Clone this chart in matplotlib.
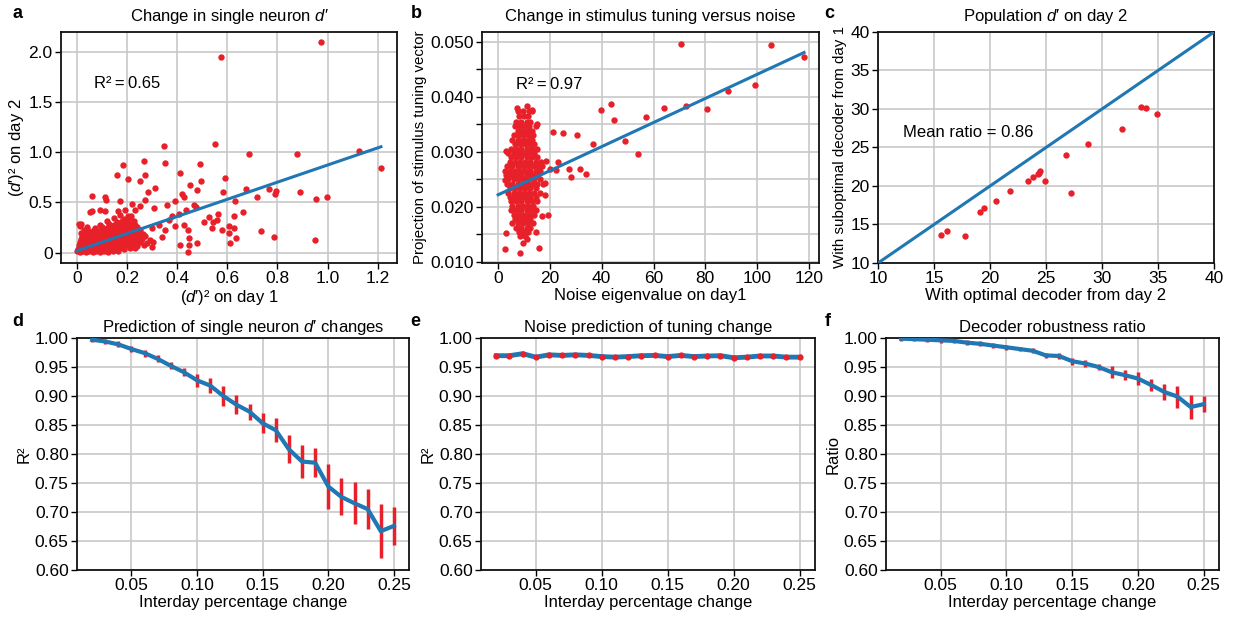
import numpy as np
import matplotlib
matplotlib.use("Agg")
import matplotlib.pyplot as plt

plt.rcParams['font.family'] = ['Liberation Sans', 'DejaVu Sans']
plt.rcParams['mathtext.fontset'] = 'custom'
plt.rcParams['mathtext.rm'] = 'Liberation Sans'
plt.rcParams['mathtext.it'] = 'Liberation Sans:italic'
FS = 12.5   # tick labels
LS = 12     # titles, axis labels, notes
plt.rcParams['font.size'] = FS

RED = '#e8202a'
BLUE = '#1f77b4'

# ---- panel a: single neuron (d')^2, day 1 vs day 2
a_outliers = [(0.575, 1.946), (0.974, 2.098), (0.347, 1.067), (0.551, 1.083),
              (0.491, 0.883), (0.686, 0.983), (0.877, 0.980), (1.124, 1.010),
              (1.213, 0.843), (0.495, 0.710), (0.591, 0.743), (0.478, 0.620),
              (0.583, 0.607), (0.673, 0.637), (0.766, 0.637), (0.795, 0.610),
              (0.789, 0.583), (0.717, 0.550), (0.630, 0.517), (0.890, 0.607),
              (0.954, 0.530), (0.996, 0.557), (0.475, 0.453), (0.509, 0.303),
              (0.527, 0.353), (0.544, 0.300), (0.540, 0.247), (0.559, 0.320),
              (0.562, 0.387), (0.579, 0.230), (0.605, 0.267), (0.608, 0.197),
              (0.626, 0.243), (0.626, 0.367), (0.661, 0.407), (0.634, 0.150),
              (0.609, 0.100), (0.734, 0.220), (0.788, 0.153), (0.950, 0.123),
              (0.478, 0.093), (0.353, 0.893), (0.184, 0.870), (0.267, 0.910),
              (0.160, 0.770), (0.203, 0.733), (0.273, 0.770), (0.253, 0.717),
              (0.413, 0.793), (0.453, 0.677), (0.313, 0.643), (0.284, 0.600),
              (0.420, 0.583), (0.427, 0.550), (0.393, 0.517), (0.060, 0.560),
              (0.113, 0.550), (0.117, 0.527), (0.053, 0.400), (0.060, 0.417),
              (0.091, 0.427), (0.111, 0.410), (0.171, 0.510), (0.220, 0.487),
              (0.253, 0.467), (0.273, 0.527), (0.307, 0.443), (0.360, 0.470),
              (0.164, 0.417), (0.193, 0.427), (0.233, 0.427), (0.217, 0.367),
              (0.007, 0.283), (0.013, 0.260), (0.407, 0.387), (0.437, 0.427),
              (0.467, 0.477), (0.380, 0.360), (0.393, 0.260), (0.427, 0.277),
              (0.444, 0.227), (0.447, 0.143), (0.449, 0.077), (0.444, 0.010),
              (0.411, 0.077), (0.340, 0.160), (0.353, 0.227), (0.367, 0.327),
              (0.300, 0.243), (0.327, 0.277)]
a_cluster = [(0.000, 0.012), (0.012, 0.008), (0.025, 0.015), (0.038, 0.006), (0.050, 0.012),
             (0.063, 0.010), (0.078, 0.014), (0.092, 0.008), (0.108, 0.016), (0.125, 0.010),
             (0.145, 0.018), (0.165, 0.012),
             (0.004, 0.040), (0.018, 0.036), (0.032, 0.044), (0.046, 0.038), (0.060, 0.045),
             (0.074, 0.035), (0.088, 0.042), (0.103, 0.047), (0.118, 0.038), (0.132, 0.044),
             (0.148, 0.036), (0.170, 0.045), (0.188, 0.040), (0.210, 0.048), (0.232, 0.042),
             (0.008, 0.072), (0.022, 0.068), (0.036, 0.075), (0.051, 0.066), (0.066, 0.074),
             (0.081, 0.070), (0.096, 0.077), (0.111, 0.068), (0.126, 0.073), (0.141, 0.079),
             (0.157, 0.068), (0.176, 0.075), (0.196, 0.071), (0.218, 0.078), (0.240, 0.070),
             (0.268, 0.076), (0.300, 0.060),
             (0.012, 0.102), (0.027, 0.098), (0.042, 0.105), (0.058, 0.097), (0.073, 0.104),
             (0.088, 0.100), (0.103, 0.108), (0.118, 0.098), (0.133, 0.104), (0.148, 0.110),
             (0.163, 0.099), (0.178, 0.106), (0.194, 0.101), (0.210, 0.109), (0.228, 0.098),
             (0.250, 0.105), (0.278, 0.100), (0.305, 0.110),
             (0.018, 0.132), (0.033, 0.128), (0.048, 0.136), (0.063, 0.127), (0.078, 0.134),
             (0.093, 0.130), (0.108, 0.138), (0.123, 0.128), (0.138, 0.135), (0.153, 0.140),
             (0.168, 0.129), (0.184, 0.136), (0.200, 0.131), (0.216, 0.139), (0.236, 0.128),
             (0.258, 0.136), (0.290, 0.130),
             (0.022, 0.162), (0.040, 0.158), (0.056, 0.166), (0.072, 0.157), (0.088, 0.164),
             (0.104, 0.160), (0.119, 0.168), (0.134, 0.158), (0.150, 0.165), (0.165, 0.170),
             (0.180, 0.159), (0.196, 0.166), (0.212, 0.161), (0.228, 0.169), (0.248, 0.158),
             (0.272, 0.166),
             (0.018, 0.192), (0.038, 0.188), (0.058, 0.196), (0.078, 0.187), (0.098, 0.194),
             (0.114, 0.190), (0.130, 0.198), (0.146, 0.188), (0.161, 0.195), (0.177, 0.200),
             (0.192, 0.189), (0.208, 0.196), (0.224, 0.191), (0.242, 0.199), (0.262, 0.188),
             (0.030, 0.222), (0.050, 0.218), (0.070, 0.226), (0.090, 0.217), (0.110, 0.224),
             (0.126, 0.220), (0.142, 0.228), (0.157, 0.218), (0.172, 0.225), (0.188, 0.230),
             (0.203, 0.219), (0.219, 0.226), (0.235, 0.221), (0.252, 0.229),
             (0.042, 0.252), (0.072, 0.248), (0.100, 0.256), (0.120, 0.247), (0.140, 0.254),
             (0.160, 0.250), (0.180, 0.258), (0.200, 0.248), (0.220, 0.255), (0.240, 0.250),
             (0.015, 0.282), (0.092, 0.278), (0.130, 0.286), (0.150, 0.277), (0.170, 0.284),
             (0.190, 0.280), (0.210, 0.288), (0.232, 0.278),
             (0.122, 0.312), (0.160, 0.308), (0.182, 0.316), (0.202, 0.307), (0.226, 0.314),
             (0.150, 0.342), (0.190, 0.338), (0.212, 0.346),
             (0.172, 0.372), (0.206, 0.368)]
a_fit_slope, a_fit_intercept = 0.855, 0.018
a_r2 = 0.65

# ---- panel b: tuning projection vs noise eigenvalue
b_outliers = [(70.7, 0.0496), (105.5, 0.0494), (118.1, 0.0473), (99.3, 0.0421),
              (88.7, 0.0411), (80.5, 0.0378), (72.5, 0.0384), (63.9, 0.0379),
              (57.1, 0.0363), (54.1, 0.0297), (48.9, 0.0320), (44.9, 0.0358),
              (43.5, 0.0387), (39.6, 0.0376), (36.8, 0.0315), (30.4, 0.0330),
              (25.2, 0.0335), (21.2, 0.0337), (23.3, 0.0281), (22.5, 0.0267),
              (27.4, 0.0269), (28.0, 0.0255), (31.6, 0.0269), (33.8, 0.0260),
              (19.9, 0.0269), (18.6, 0.0284), (19.3, 0.0186), (17.0, 0.0183),
              (18.0, 0.0243), (18.0, 0.0222), (15.7, 0.0126), (2.6, 0.0123),
              (8.4, 0.0116), (9.6, 0.0134), (11.1, 0.0141), (14.5, 0.0155),
              (3.2, 0.0301), (2.8, 0.0266), (2.6, 0.0248), (3.2, 0.0152),
              (7.3, 0.0379), (11.2, 0.0384), (12.9, 0.0377), (15.0, 0.0350)]
b_rows = {
    0.0375: [7.5, 9.5, 12.0, 13.0],
    0.0365: [8.0, 10.0, 11.5],
    0.0355: [7.0, 9.0, 11.0, 12.5],
    0.0347: [6.5, 8.5, 10.5, 12.0, 14.5],
    0.0338: [7.5, 9.5, 11.5, 13.0],
    0.0330: [6.0, 8.0, 10.0, 12.0, 13.5],
    0.0322: [5.5, 7.5, 9.5, 11.5, 13.0],
    0.0314: [6.5, 8.5, 10.5, 12.5, 14.0],
    0.0306: [5.0, 7.0, 9.0, 11.0, 13.0, 15.0],
    0.0298: [4.0, 6.0, 8.0, 10.0, 12.0, 14.0],
    0.0290: [5.0, 7.0, 9.0, 11.0, 13.0, 15.0],
    0.0282: [4.5, 6.5, 8.5, 10.5, 12.5, 14.5, 16.5],
    0.0274: [3.5, 5.5, 7.5, 9.5, 11.5, 13.5, 15.5, 17.0],
    0.0266: [4.5, 6.5, 8.5, 10.5, 12.5, 14.5, 16.0],
    0.0258: [3.0, 5.0, 7.0, 9.0, 11.0, 13.0, 15.0],
    0.0250: [4.0, 6.0, 8.0, 10.0, 12.0, 14.0, 16.0],
    0.0242: [3.5, 5.5, 7.5, 9.5, 11.5, 13.5, 15.0, 17.5],
    0.0234: [4.5, 6.5, 8.5, 10.5, 12.5, 14.5],
    0.0226: [4.0, 6.0, 8.0, 10.0, 12.0, 14.0, 16.0],
    0.0218: [4.5, 6.5, 8.5, 10.5, 12.5, 14.5],
    0.0210: [5.0, 7.0, 9.0, 11.0, 13.0, 15.0],
    0.0202: [5.5, 7.5, 9.5, 11.5, 13.5],
    0.0194: [5.0, 7.0, 9.0, 11.0, 13.0, 14.5],
    0.0186: [6.0, 8.0, 10.0, 12.0, 14.0],
    0.0178: [6.5, 8.5, 10.5, 12.5],
    0.0170: [5.5, 7.5, 9.5, 11.5, 13.5],
    0.0162: [7.0, 9.0, 11.0, 12.5],
    0.0154: [8.0, 10.0, 11.5],
    0.0147: [8.5, 10.5],
}
b_fit_slope, b_fit_intercept = 0.000219, 0.0222
b_r2 = 0.97

# ---- panel c: population d' on day 2
c_optimal = [15.6, 16.2, 17.8, 19.1, 19.5, 20.5, 21.8, 23.4, 23.8, 24.3,
             24.5, 24.4, 24.9, 26.8, 27.2, 28.75, 31.8, 33.5, 33.9, 34.9]
c_subopt = [13.6, 14.2, 13.5, 16.6, 17.2, 18.0, 19.3, 20.6, 21.2, 21.6,
            21.9, 21.7, 20.7, 24.0, 19.1, 25.4, 27.4, 30.2, 30.1, 29.3]
c_mean_ratio = 0.86

# ---- panels d-f: interday percentage change
change = [0.02, 0.03, 0.04, 0.05, 0.06, 0.07, 0.08, 0.09, 0.10, 0.11, 0.12, 0.13,
          0.14, 0.15, 0.16, 0.17, 0.18, 0.19, 0.20, 0.21, 0.22, 0.23, 0.24, 0.25]
d_r2 = [0.997, 0.994, 0.989, 0.981, 0.974, 0.964, 0.952, 0.941, 0.927, 0.918, 0.900, 0.885,
        0.873, 0.853, 0.841, 0.808, 0.787, 0.785, 0.744, 0.726, 0.715, 0.705, 0.667, 0.676]
d_err = [0.004, 0.005, 0.005, 0.005, 0.006, 0.006, 0.006, 0.007, 0.011, 0.0135, 0.018, 0.016,
         0.014, 0.017, 0.021, 0.024, 0.028, 0.025, 0.038, 0.032, 0.036, 0.035, 0.046, 0.033]
e_r2 = [0.9695, 0.9695, 0.973, 0.967, 0.971, 0.970, 0.971, 0.970, 0.968, 0.967, 0.968, 0.9695,
        0.970, 0.968, 0.970, 0.968, 0.969, 0.9695, 0.966, 0.967, 0.969, 0.969, 0.967, 0.967]
f_ratio = [0.999, 0.998, 0.997, 0.996, 0.995, 0.992, 0.990, 0.987, 0.984, 0.981, 0.978, 0.970,
           0.969, 0.960, 0.956, 0.950, 0.941, 0.936, 0.930, 0.919, 0.907, 0.899, 0.881, 0.886]
f_err = [0.004, 0.004, 0.004, 0.004, 0.004, 0.004, 0.004, 0.004, 0.004, 0.004, 0.004, 0.005,
         0.005, 0.006, 0.006, 0.006, 0.010, 0.009, 0.011, 0.010, 0.014, 0.019, 0.021, 0.014]

DP = r"$d$′"
TS = "\u2009"  # thin space around "=" in the R² notes


def style(ax):
    ax.grid(True, color='#c8c8c8', lw=1.2)
    ax.set_axisbelow(True)
    for s in ax.spines.values():
        s.set_linewidth(1.3)
        s.set_color('#111111')
    ax.tick_params(direction='out', length=4, width=1, labelsize=FS, pad=2)


fig = plt.figure(figsize=(12.36, 6.21), dpi=100)
axa = fig.add_axes([0.0494, 0.5765, 0.2718, 0.372])
axb = fig.add_axes([0.390, 0.5765, 0.2727, 0.372])
axc = fig.add_axes([0.7104, 0.5765, 0.2718, 0.372])
axd = fig.add_axes([0.0623, 0.0821, 0.2686, 0.3736])
axe = fig.add_axes([0.3892, 0.0821, 0.270, 0.3736])
axf = fig.add_axes([0.7168, 0.0821, 0.2694, 0.3736])

# a
pts = a_cluster + a_outliers
ax_x = [p[0] for p in pts]
ax_y = [p[1] for p in pts]
axa.scatter(ax_x, ax_y, s=21, color=RED, lw=0, zorder=2)
fx = np.array([0, max(ax_x)])
axa.plot(fx, a_fit_intercept + a_fit_slope * fx, color=BLUE, lw=2.2, zorder=3)
axa.set_xlim(-0.063, 1.277)
axa.set_ylim(-0.104, 2.2)
axa.set_xticks([0, 0.2, 0.4, 0.6, 0.8, 1.0, 1.2])
axa.set_xticklabels(['0', '0.2', '0.4', '0.6', '0.8', '1.0', '1.2'])
axa.set_yticks([0, 0.5, 1.0, 1.5, 2.0])
axa.set_yticklabels(['0', '0.5', '1.0', '1.5', '2.0'])
axa.text(0.07, 1.685, 'R²' + TS + '=' + TS + '%.2f' % a_r2, fontsize=LS, va='center')
axa.set_title("Change in single neuron " + DP, fontsize=LS, pad=8)
axa.set_xlabel("(" + DP + ")² on day 1", fontsize=LS, labelpad=1)
axa.set_ylabel("(" + DP + ")² on day 2", fontsize=LS, labelpad=2)
style(axa)

# b
bx = [p[0] for p in b_outliers]
by = [p[1] for p in b_outliers]
for yv, xs in b_rows.items():
    bx += xs
    by += [yv] * len(xs)
axb.scatter(bx, by, s=21, color=RED, lw=0, zorder=2)
fx = np.array([0, max(bx)])
axb.plot(fx, b_fit_intercept + b_fit_slope * fx, color=BLUE, lw=2.2, zorder=3)
axb.set_xlim(-6.2, 123.9)
axb.set_ylim(0.0098, 0.0518)
axb.set_xticks([0, 20, 40, 60, 80, 100, 120])
yt = np.arange(0.010, 0.0501, 0.005)
axb.set_yticks(yt)
axb.set_yticklabels(['%.3f' % v if i % 2 == 0 else '' for i, v in enumerate(yt)])
axb.text(6.8, 0.0422, 'R²' + TS + '=' + TS + '%.2f' % b_r2, fontsize=LS, va='center')
axb.set_title('Change in stimulus tuning versus noise', fontsize=LS, pad=8)
axb.set_xlabel('Noise eigenvalue on day1', fontsize=LS, labelpad=1)
axb.set_ylabel('Projection of stimulus tuning vector', fontsize=10.8, labelpad=2)
style(axb)

# c
axc.scatter(c_optimal, c_subopt, s=21, color=RED, lw=0, zorder=2)
axc.plot([10, 40], [10, 40], color=BLUE, lw=2.2, zorder=3)
axc.set_xlim(10, 40)
axc.set_ylim(10, 40)
axc.set_xticks(range(10, 41, 5))
axc.set_yticks(range(10, 41, 5))
axc.text(12.2, 27.0, 'Mean ratio = %.2f' % c_mean_ratio, fontsize=LS, va='center')
axc.set_title("Population " + DP + " on day 2", fontsize=LS, pad=8)
axc.set_xlabel('With optimal decoder from day 2', fontsize=LS, labelpad=1)
axc.set_ylabel('With suboptimal decoder from day 1', fontsize=10.9, labelpad=2)
style(axc)

# d, e, f
for ax in (axd, axe, axf):
    ax.set_ylim(0.6, 1.0)
    ax.set_yticks(np.arange(0.60, 1.001, 0.05))
    ax.set_xticks([0.05, 0.10, 0.15, 0.20, 0.25])
    ax.yaxis.set_major_formatter(plt.FormatStrFormatter('%.2f'))
    ax.xaxis.set_major_formatter(plt.FormatStrFormatter('%.2f'))
    ax.set_xlabel('Interday percentage change', fontsize=LS, labelpad=1)
    style(ax)

axd.errorbar(change, d_r2, yerr=d_err, fmt='none', ecolor=RED, elinewidth=2.5, capsize=0, zorder=2)
axd.plot(change, d_r2, color=BLUE, lw=3, zorder=3)
axd.set_title("Prediction of single neuron " + DP + " changes", fontsize=LS, pad=4)
axd.set_ylabel('R²', fontsize=LS, labelpad=2)

axe.plot(change, e_r2, color=BLUE, lw=3.5, zorder=2)
axe.plot(change, e_r2, 'o', color=RED, ms=4.5, mew=0, zorder=3)
axe.set_title('Noise prediction of tuning change', fontsize=LS, pad=4)
axe.set_ylabel('R²', fontsize=LS, labelpad=2)

axf.errorbar(change, f_ratio, yerr=f_err, fmt='none', ecolor=RED, elinewidth=2.5, capsize=0, zorder=2)
axf.plot(change, f_ratio, color=BLUE, lw=3, zorder=3)
axf.set_title('Decoder robustness ratio', fontsize=LS, pad=4)
axf.set_ylabel('Ratio', fontsize=LS, labelpad=2)

# panel letters
for lbl, x, y in [('a', 0.010, 0.978), ('b', 0.332, 0.978), ('c', 0.667, 0.978),
                  ('d', 0.010, 0.482), ('e', 0.332, 0.482), ('f', 0.667, 0.482)]:
    fig.text(x, y, lbl, fontsize=13, fontweight='bold', va='center')

fig.savefig('out.png', dpi=100)
